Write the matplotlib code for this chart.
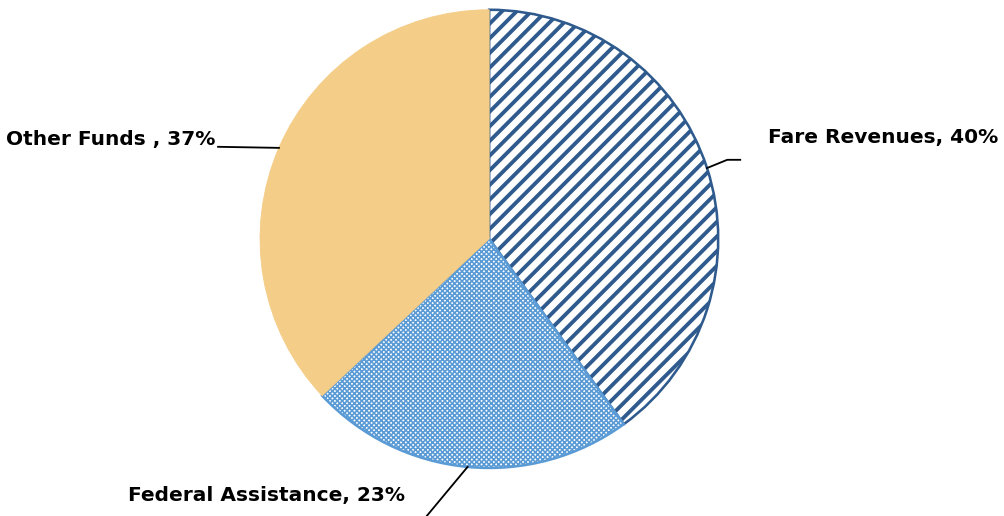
import numpy as np
import matplotlib
matplotlib.use('Agg')
import matplotlib.pyplot as plt

labels = ['Fare Revenues', 'Federal Assistance', 'Other Funds ']
shares = [40, 23, 37]
colors = ['#2E5A8D', '#5B9BD5', '#F4CD88']
hatches = ['///', 'xxxxxxxxx', None]

DPI = 132
plt.rcParams['font.family'] = ['DejaVu Sans']
fig = plt.figure(figsize=(1004.3 / DPI, 516.3 / DPI), dpi=DPI)

# pie centre ~ (489, 239) px, radius ~229 px
cx, cy, R = 489, 239, 229
ax = fig.add_axes([(cx - R) / 1004, (516 - cy - R) / 516, 2 * R / 1004, 2 * R / 516])

wedges, _ = ax.pie(shares, startangle=90, counterclock=False, radius=1)
for w, c, h in zip(wedges, colors, hatches):
    if h:
        w.set_facecolor('white')
        w.set_edgecolor(c)
        w.set_hatch(h)
        w.set_linewidth(1.4)
    else:
        w.set_facecolor(c)
        w.set_edgecolor(c)
        w.set_linewidth(0.5)
if hasattr(wedges[0], 'set_hatch_linewidth'):
    wedges[0].set_hatch_linewidth(2.1)
    wedges[1].set_hatch_linewidth(0.9)
ax.set_xlim(-1, 1)
ax.set_ylim(-1, 1)
ax.set_aspect('equal')
ax.axis('off')


def px(x, y):
    return (x - cx) / R, (cy - y) / R


# leader lines start at each wedge's mid angle on the rim
bends = {
    0: [px(727, 160), px(740, 160)],
    1: [px(425, 518)],
    2: [px(218, 147)],
}
text_pos = {
    0: (px(768, 137), 'left'),
    1: (px(405, 495), 'right'),
    2: (px(215, 139), 'right'),
}
for i, w in enumerate(wedges):
    mid = np.deg2rad((w.theta1 + w.theta2) / 2)
    pts = [(np.cos(mid), np.sin(mid))] + bends[i]
    xs, ys = zip(*pts)
    ax.plot(xs, ys, color='black', lw=1.0, clip_on=False)
    (tx, ty), ha = text_pos[i]
    ax.text(tx, ty, f'{labels[i]}, {shares[i]}%', ha=ha, va='center',
            fontsize=11, fontweight='bold', color='black', clip_on=False)

fig.savefig('out.png', dpi=DPI)
